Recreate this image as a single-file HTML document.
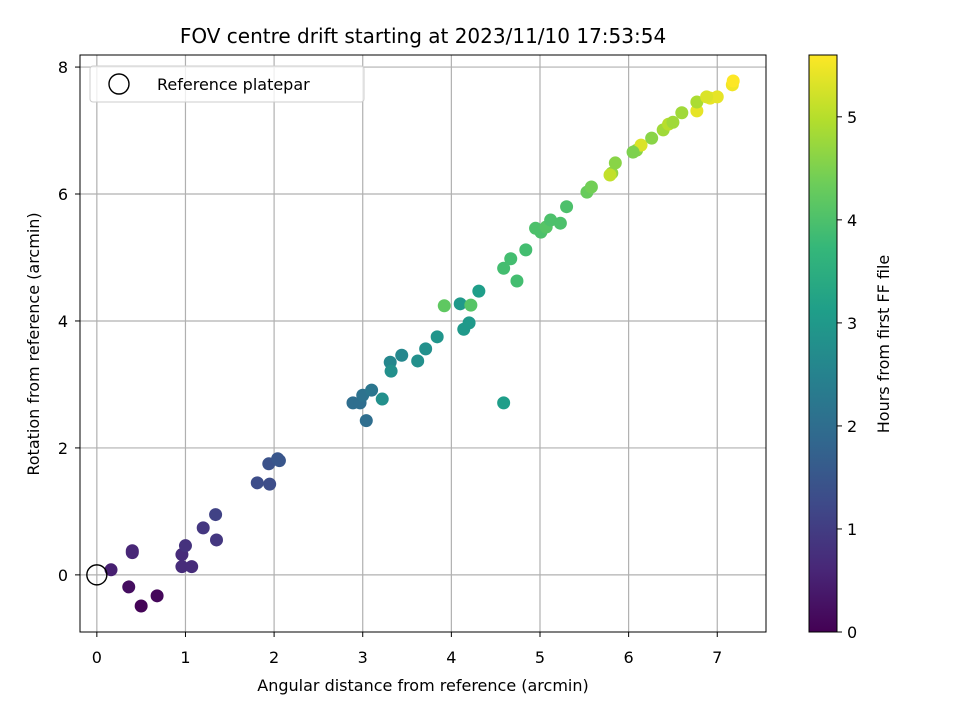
<!DOCTYPE html>
<html><head><meta charset="utf-8"><style>body{margin:0;background:#fff}svg{font-family:"DejaVu Sans","Liberation Sans",sans-serif}</style></head>
<body>
<svg id="chart" width="960" height="720" xmlns="http://www.w3.org/2000/svg">
<defs><linearGradient id="vir" x1="0" y1="1" x2="0" y2="0"></linearGradient></defs>
</svg>
<script>
const xVals=[0.16,0.40,0.40,0.36,0.50,0.68,0.96,0.96,1.07,1.00,1.20,1.34,1.35,1.81,1.95,1.94,2.04,2.06,2.89,2.97,3.00,3.10,3.04,3.22,3.31,3.32,3.44,3.62,3.71,3.84,3.92,4.10,4.22,4.31,4.20,4.14,4.59,4.59,4.67,4.74,4.84,4.95,5.01,5.07,5.12,5.23,5.30,5.53,5.58,5.81,5.85,5.79,6.09,6.14,6.05,6.26,6.39,6.45,6.50,6.60,6.77,6.77,6.92,7.00,6.88,7.17,7.18];
const yVals=[0.08,0.38,0.35,-0.19,-0.49,-0.33,0.32,0.13,0.13,0.46,0.74,0.95,0.55,1.45,1.43,1.75,1.83,1.80,2.71,2.71,2.83,2.91,2.43,2.77,3.35,3.21,3.46,3.37,3.56,3.75,4.24,4.27,4.25,4.47,3.97,3.87,2.71,4.83,4.98,4.63,5.12,5.46,5.40,5.48,5.59,5.54,5.80,6.03,6.11,6.33,6.49,6.30,6.69,6.77,6.66,6.88,7.01,7.10,7.13,7.28,7.31,7.45,7.51,7.53,7.53,7.72,7.78];
const hours=[0.5,0.6,0.6,0.2,0.05,0.1,0.7,0.7,0.7,0.8,0.9,1.1,0.9,1.3,1.3,1.4,1.5,1.5,2.0,2.0,2.1,2.2,2.0,2.8,2.6,2.8,2.6,2.8,2.8,2.9,4.2,3.0,4.1,3.1,3.0,3.0,3.1,3.9,3.9,3.9,3.9,4.0,4.0,4.1,4.0,4.0,4.0,4.3,4.4,4.7,4.6,5.1,4.6,5.3,4.5,4.6,4.8,5.0,4.8,4.8,5.4,4.9,5.4,5.4,5.3,5.5,5.6];
const xTicks=[0,1,2,3,4,5,6,7];
const yTicks=[0,2,4,6,8];
const cTicks=[0,1,2,3,4,5];
const L=80,R=766,T=55,B=632,xMin=-0.19,xMax=7.55,yMin=-0.9,yMax=8.19,cMax=5.6;
const sx=v=>L+(v-xMin)/(xMax-xMin)*(R-L);
const sy=v=>B-(v-yMin)/(yMax-yMin)*(B-T);
const stops=[[68,1,84],[72,40,120],[62,74,137],[49,104,142],[38,130,142],[31,158,137],[53,183,121],[109,205,89],[180,222,44],[253,231,37]];
function vir(t){t=Math.max(0,Math.min(1,t));const f=t*(stops.length-1),i=Math.min(stops.length-2,Math.floor(f)),u=f-i;const c=stops[i].map((a,k)=>Math.round(a+(stops[i+1][k]-a)*u));return `rgb(${c})`;}
const svg=document.getElementById('chart');const NS='http://www.w3.org/2000/svg';
function el(t,a,p){const e=document.createElementNS(NS,t);for(const k in a)e.setAttribute(k,a[k]);(p||svg).appendChild(e);return e;}
const g=document.getElementById('vir');
stops.forEach((s,i)=>el('stop',{offset:i/(stops.length-1),'stop-color':`rgb(${s})`},g));
xTicks.forEach(v=>{const l=el('line',{x1:sx(v),x2:sx(v),y1:T,y2:B,stroke:'#b0b0b0','stroke-width':1.2});
el('line',{x1:sx(v),x2:sx(v),y1:B,y2:B+5,stroke:'#000'});
const t=el('text',{x:sx(v),y:B+31,'text-anchor':'middle','font-size':16});t.textContent=v;});
yTicks.forEach(v=>{const l=el('line',{y1:sy(v),y2:sy(v),x1:L,x2:R,stroke:'#b0b0b0','stroke-width':1.2});
el('line',{y1:sy(v),y2:sy(v),x1:L-5,x2:L,stroke:'#000'});
const t=el('text',{x:L-12,y:sy(v)+6,'text-anchor':'end','font-size':16});t.textContent=v;});
xVals.forEach((x,i)=>{const c=el('circle',{cx:sx(x),cy:sy(yVals[i]),r:6.5,fill:vir(hours[i]/cMax)});});
const ref=el('circle',{cx:sx(0),cy:sy(0),r:10,fill:'none',stroke:'#000','stroke-width':1.4});
const fr=el('rect',{x:L,y:T,width:R-L,height:B-T,fill:'none',stroke:'#000','stroke-width':1});
const lg=el('rect',{x:90,y:66,width:274,height:36,rx:3,fill:'#fff','fill-opacity':0.8,stroke:'#ccc'});
el('circle',{cx:119,cy:84,r:10,fill:'none',stroke:'#000','stroke-width':1.4});
const lt=el('text',{x:157,y:90,'font-size':16});lt.textContent='Reference platepar';
const tt=el('text',{x:423,y:43,'text-anchor':'middle','font-size':20});tt.textContent='FOV centre drift starting at 2023/11/10 17:53:54';
const xt=el('text',{x:423,y:691,'text-anchor':'middle','font-size':16});xt.textContent='Angular distance from reference (arcmin)';
const yt=el('text',{x:39,y:344,'text-anchor':'middle','font-size':16,transform:'rotate(-90 39 344)'});yt.textContent='Rotation from reference (arcmin)';
const CL=809,CW=28,sc=v=>B-v/cMax*(B-T);
const cb=el('rect',{x:CL,y:T,width:CW,height:B-T,fill:'url(#vir)',stroke:'#000'});
cTicks.forEach(v=>{el('line',{x1:CL+CW,x2:CL+CW+5,y1:sc(v),y2:sc(v),stroke:'#000'});
const t=el('text',{x:CL+CW+10,y:sc(v)+6,'font-size':16});t.textContent=v;});
const ct=el('text',{x:889,y:344,'text-anchor':'middle','font-size':16,transform:'rotate(-90 889 344)'});ct.textContent='Hours from first FF file';
</script>
</body></html>
